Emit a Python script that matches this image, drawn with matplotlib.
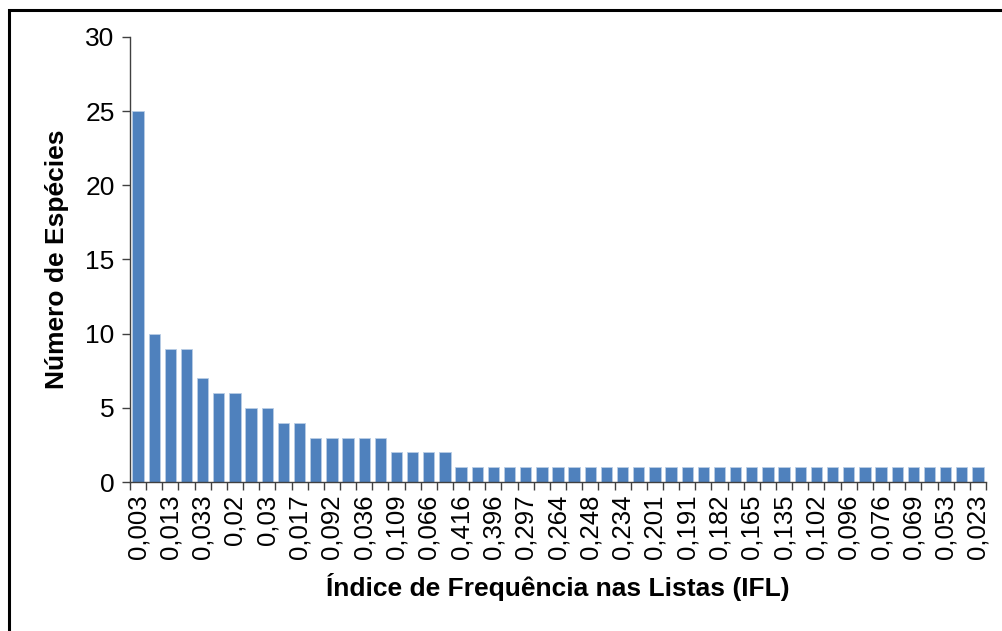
import matplotlib
matplotlib.use("Agg")
import matplotlib.pyplot as plt
from matplotlib.patches import Rectangle

plt.rcParams["font.family"] = ["Liberation Sans", "DejaVu Sans"]

# Number of species per IFL value (53 categories, only every other one labelled)
counts = [25, 10, 9, 9, 7, 6, 6, 5, 5, 4, 4, 3, 3, 3, 3, 3, 2, 2, 2, 2] + [1] * 33
shown_labels = ["0,003", "0,013", "0,033", "0,02", "0,03", "0,017", "0,092", "0,036",
                "0,109", "0,066", "0,416", "0,396", "0,297", "0,264", "0,248", "0,234",
                "0,201", "0,191", "0,182", "0,165", "0,135", "0,102", "0,096", "0,076",
                "0,069", "0,053", "0,023"]
y_ticks = [0, 5, 10, 15, 20, 25, 30]

# every second category carries a label
labels = []
for i in range(len(counts)):
    labels.append(shown_labels[i // 2] if i % 2 == 0 else "")

W, H = 1003, 631
fig = plt.figure(figsize=(W / 100, H / 100), dpi=100)
ax = fig.add_axes([130 / W, (H - 482) / H, 856 / W, 445 / H])

x = list(range(len(counts)))
ax.bar(x, counts, width=0.7, color="#4F81BD", edgecolor="#B9CDE5", linewidth=0.6)

ax.set_xlim(-0.5, len(counts) - 0.5)
ax.set_ylim(0, 30)
ax.set_yticks(y_ticks)
ax.tick_params(axis="y", direction="out", length=6, width=1, color="#404040",
               labelsize=19, pad=5)

# tick marks between categories, labels centred on the bars
ax.set_xticks([i - 0.5 for i in range(len(counts) + 1)])
ax.set_xticklabels([])
ax.set_xticks(x, minor=True)
ax.set_xticklabels(labels, minor=True, rotation=90, fontsize=18.5)
ax.tick_params(axis="x", which="major", direction="out", length=6, width=1, color="#404040")
ax.tick_params(axis="x", which="minor", length=0, pad=9)

for side in ["top", "right"]:
    ax.spines[side].set_visible(False)
for side in ["left", "bottom"]:
    ax.spines[side].set_color("#404040")
    ax.spines[side].set_linewidth(1)

ax.set_ylabel("Número de Espécies", fontsize=19, fontweight="bold", labelpad=12)
ax.set_xlabel("Índice de Frequência nas Listas (IFL)", fontsize=19, fontweight="bold",
              labelpad=10)

# outer frame (left and top edges visible, the rest runs off the picture)
fig.patches.append(Rectangle((9 / W, -0.1), 1.2, (H - 9.5) / H + 0.1,
                             transform=fig.transFigure, fill=False,
                             edgecolor="black", linewidth=2.2))

fig.savefig("out.png", dpi=100)
